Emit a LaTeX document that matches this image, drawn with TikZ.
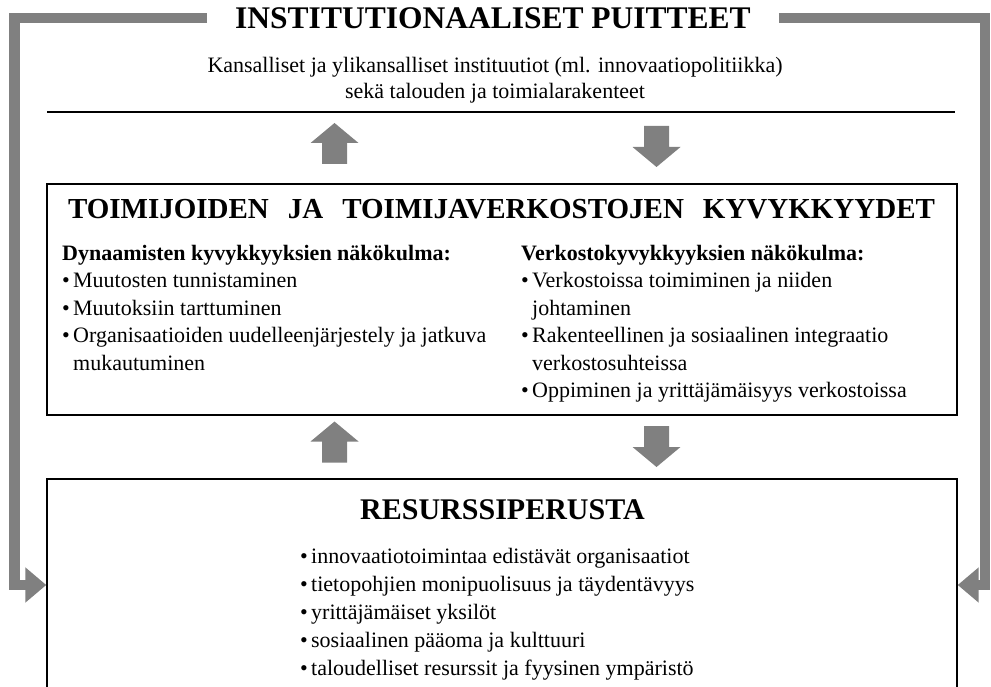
\documentclass[tikz,border=0pt]{standalone}
\usepackage{fontspec}
\setmainfont{Liberation Serif}
\usetikzlibrary{arrows.meta}
\definecolor{framegray}{RGB}{128,128,128}
% bullet with a fixed hanging indent
\newcommand\bpt{\makebox[11pt][l]{\textbullet}}
\newcommand\hng{\hspace*{11pt}}
\begin{document}
\begin{tikzpicture}[x=1pt,y=-1pt,
  body/.style={font=\fontsize{22}{27.5}\selectfont, align=left, inner sep=0pt, anchor=base west},
  heading/.style={font=\bfseries\fontsize{30}{36}\selectfont, inner sep=0pt},
  band/.style={draw=black, line width=1.4pt, minimum width=910pt, inner sep=0pt},
  frame/.style={draw=framegray, line width=10.5pt, line join=miter,
    -{Triangle[length=21pt 0 0, width=34pt 0 0]}},
  blockarrow/.pic={\fill[framegray] (0,-20.5) -- (24,-0.5) -- (12.5,-0.5) -- (12.5,20.5)
    -- (-12.5,20.5) -- (-12.5,-0.5) -- (-24,-0.5) -- cycle;}
]
\useasboundingbox (0,0) rectangle (991,687);

% institutional frame
\node[heading, inner xsep=28pt, font=\bfseries\fontsize{31.5}{36}\selectfont] (inst) at (493,18) {INSTITUTIONAALISET PUITTEET};
\node[font=\fontsize{22}{26}\selectfont, align=center, inner sep=0pt] (sub) at (495,80)
  {Kansalliset ja ylikansalliset instituutiot (ml. innovaatiopolitiikka)\\sekä talouden ja toimialarakenteet};
\draw[line width=1.4pt] (47,112) -- (955,112);

% capabilities band
\node[band, minimum height=231pt] (cap) at (502,299.5) {};
\node[heading, font=\bfseries\fontsize{29}{36}\selectfont] (captitle) at (501.5,209.5)
  {\makebox[867pt][s]{TOIMIJOIDEN JA TOIMIJAVERKOSTOJEN KYVYKKYYDET}};
% multi-line nodes are anchored at the baseline of their last line
\node[body] (dyn) at (62,370) {\textbf{Dynaamisten kyvykkyyksien näkökulma:}\\
  \bpt Muutosten tunnistaminen\\
  \bpt Muutoksiin tarttuminen\\
  \bpt Organisaatioiden uudelleenjärjestely ja jatkuva\\
  \hng mukautuminen};
\node[body] (net) at (521,397.5) {\textbf{Verkostokyvykkyyksien näkökulma:}\\
  \bpt Verkostoissa toimiminen ja niiden\\
  \hng johtaminen\\
  \bpt Rakenteellinen ja sosiaalinen integraatio\\
  \hng verkostosuhteissa\\
  \bpt Oppiminen ja yrittäjämäisyys verkostoissa};

% resource base band
\node[band, minimum height=212pt] (res) at (502,585) {};
\node[heading] (restitle) at (502.5,510) {RESURSSIPERUSTA};
\node[body, font=\fontsize{22}{28}\selectfont] (reslist) at (300,675) {\bpt innovaatiotoimintaa edistävät organisaatiot\\
  \bpt tietopohjien monipuolisuus ja täydentävyys\\
  \bpt yrittäjämäiset yksilöt\\
  \bpt sosiaalinen pääoma ja kulttuuri\\
  \bpt taloudelliset resurssit ja fyysinen ympäristö};

% interaction arrows between the levels
\pic at (334.5,143.5) {blockarrow};
\pic[rotate=180] at (656.5,146.5) {blockarrow};
\pic at (334.5,442) {blockarrow};
\pic[rotate=180] at (656.5,446.5) {blockarrow};

% institutional influence on the resource base
\draw[frame] (inst.west) -- (14.5,18) -- (14.5,585) -- (res.west);
\draw[frame] (inst.east) -- (985,18) -- (985,585) -- (res.east);
\end{tikzpicture}
\end{document}
